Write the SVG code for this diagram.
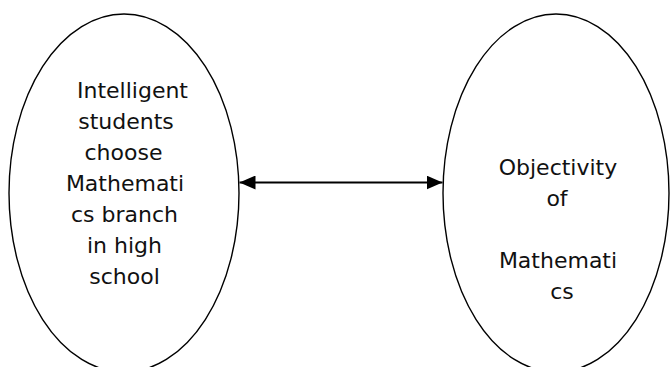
<svg xmlns="http://www.w3.org/2000/svg" width="670" height="367" viewBox="0 0 670 367">
  <defs>
    <style>
      .node ellipse { fill: #ffffff; stroke: #000000; stroke-width: 1.4; }
      .label { font-family: "DejaVu Sans", "Liberation Sans", sans-serif; font-size: 22px; fill: #111111; text-anchor: middle; }
      .conn { stroke: #000000; stroke-width: 2; fill: none; }
    </style>
    <marker id="arrowEnd" markerUnits="userSpaceOnUse" markerWidth="16" markerHeight="14" refX="16" refY="7" orient="auto">
      <path d="M0,0 L16,7 L0,14 Z" fill="#000000"/>
    </marker>
    <marker id="arrowStart" markerUnits="userSpaceOnUse" markerWidth="16" markerHeight="14" refX="0" refY="7" orient="auto">
      <path d="M16,0 L0,7 L16,14 Z" fill="#000000"/>
    </marker>
  </defs>
  <rect width="670" height="367" fill="#ffffff"/>
  <g id="node-left" class="node">
    <ellipse cx="124" cy="193" rx="115" ry="179"/>
    <text class="label" x="132.5" y="98">Intelligent</text>
    <text class="label" x="126" y="129">students</text>
    <text class="label" x="123.5" y="160">choose</text>
    <text class="label" x="125" y="191">Mathemati</text>
    <text class="label" x="124.5" y="222">cs branch</text>
    <text class="label" x="124.5" y="253">in high</text>
    <text class="label" x="124.5" y="284">school</text>
  </g>
  <g id="node-right" class="node">
    <ellipse cx="556" cy="193" rx="113" ry="179"/>
    <text class="label" x="558" y="175">Objectivity</text>
    <text class="label" x="557" y="206">of</text>
    <text class="label" x="558" y="268">Mathemati</text>
    <text class="label" x="562" y="299">cs</text>
  </g>
  <g id="connectors">
    <line class="conn" x1="239.5" y1="182.5" x2="442.5" y2="182.5" marker-start="url(#arrowStart)" marker-end="url(#arrowEnd)"/>
  </g>
</svg>
